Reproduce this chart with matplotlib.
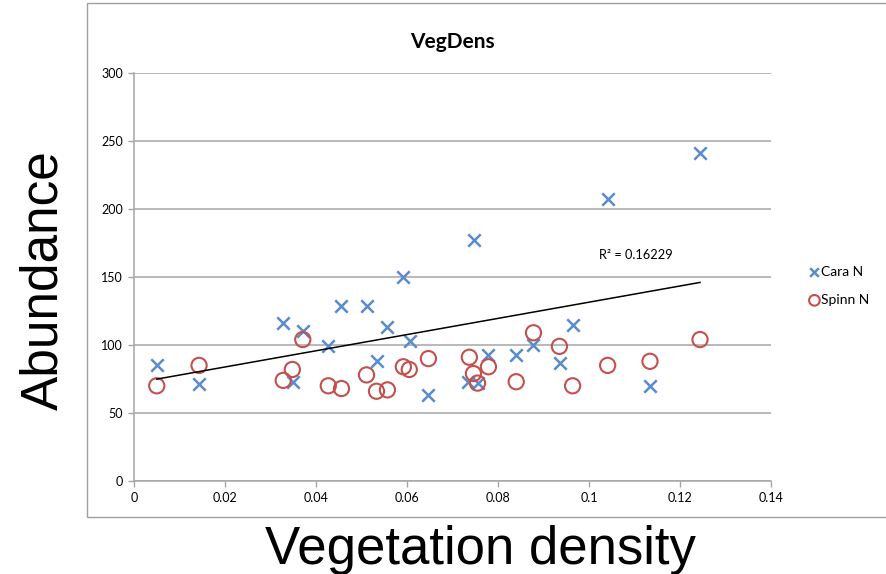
import numpy as np
import matplotlib
matplotlib.use('Agg')
import matplotlib.pyplot as plt
from matplotlib.patches import Rectangle
from matplotlib.ticker import FuncFormatter

# values
cara_x = [0.0050, 0.0143, 0.0328, 0.0371, 0.0349, 0.0427, 0.0456, 0.0511, 0.0535, 0.0557,
          0.0592, 0.0607, 0.0647, 0.0735, 0.0755, 0.0779, 0.0840, 0.0878, 0.0936, 0.0964,
          0.1134, 0.0748, 0.1042, 0.1244]
cara_y = [85, 71, 116, 110, 73, 99, 129, 129, 88, 113,
          150, 103, 63, 73, 72, 93, 93, 100, 87, 115,
          70, 177, 207, 241]
spinn_x = [0.0050, 0.0143, 0.0328, 0.0348, 0.0371, 0.0427, 0.0456, 0.0511, 0.0533, 0.0557,
           0.0592, 0.0605, 0.0647, 0.0737, 0.0746, 0.0755, 0.0779, 0.0840, 0.0878, 0.0935,
           0.0964, 0.1041, 0.1134, 0.1244]
spinn_y = [70, 85, 74, 82, 104, 70, 68, 78, 66, 67,
           84, 82, 90, 91, 79, 72, 84, 73, 109, 99,
           70, 85, 88, 104]
r2_label = 'R² = 0.16229'
series_names = ['Cara N', 'Spinn N']

tick_font = 'Lato'
big_font = 'Liberation Sans'

fig = plt.figure(figsize=(8.87, 5.74), dpi=100)
ax = fig.add_axes([134/887, 1-481/574, 637/887, 408/574])

# outer chart frame (right side runs off the picture)
fig.patches.append(Rectangle((87/887, 1-517/574), 1.0, 514/574, transform=fig.transFigure,
                             fill=False, edgecolor='#a0a0a0', lw=1.0, clip_on=False))

ax.scatter(cara_x, cara_y, marker='x', s=80, color='#5a8ccb', linewidths=1.8,
           label=series_names[0], zorder=3)
ax.scatter(spinn_x, spinn_y, marker='o', s=120, facecolors='none', edgecolors='#c4504d',
           linewidths=1.5, label=series_names[1], zorder=3)

# linear trendline of Cara N
k, b = np.polyfit(cara_x, cara_y, 1)
xs = np.array([min(cara_x), max(cara_x)])
ax.plot(xs, k*xs + b, color='black', lw=1.1, zorder=4)
ax.text(0.1102, 166, r2_label, fontsize=9.2, family=tick_font, ha='center', va='center')

ax.set_xlim(0, 0.14)
ax.set_ylim(0, 300)
ax.set_xticks(np.arange(0, 0.141, 0.02))
ax.set_yticks(np.arange(0, 301, 50))
ax.xaxis.set_major_formatter(FuncFormatter(lambda v, p: '%g' % round(v, 2)))
ax.yaxis.grid(True, color='#a6a6a6', lw=1.1)
ax.set_axisbelow(True)
for s in ['top', 'right']:
    ax.spines[s].set_visible(False)
for s in ['left', 'bottom']:
    ax.spines[s].set_color('#a6a6a6')
    ax.spines[s].set_linewidth(1.1)
ax.tick_params(axis='both', direction='out', length=4, color='#a6a6a6', width=1,
               labelsize=9, pad=4)
for lab in ax.get_xticklabels() + ax.get_yticklabels():
    lab.set_family(tick_font)

ax.set_title('VegDens', fontsize=15, fontweight='bold', family=tick_font, pad=18)

fig.text(480/887, 1-550/574, 'Vegetation density', fontsize=38, family=big_font,
         ha='center', va='center')
fig.text(44/887, 1-280/574, 'Abundance', fontsize=37, family=big_font,
         ha='center', va='center', rotation=90)

ax.legend(loc='center left', bbox_to_anchor=(795/887, 1-286/574), bbox_transform=fig.transFigure,
          frameon=False, prop={'family': tick_font, 'size': 10}, handletextpad=0.0,
          handlelength=1.0, labelspacing=1.15, scatterpoints=1, markerscale=0.7)

fig.savefig('out.png', dpi=100)
